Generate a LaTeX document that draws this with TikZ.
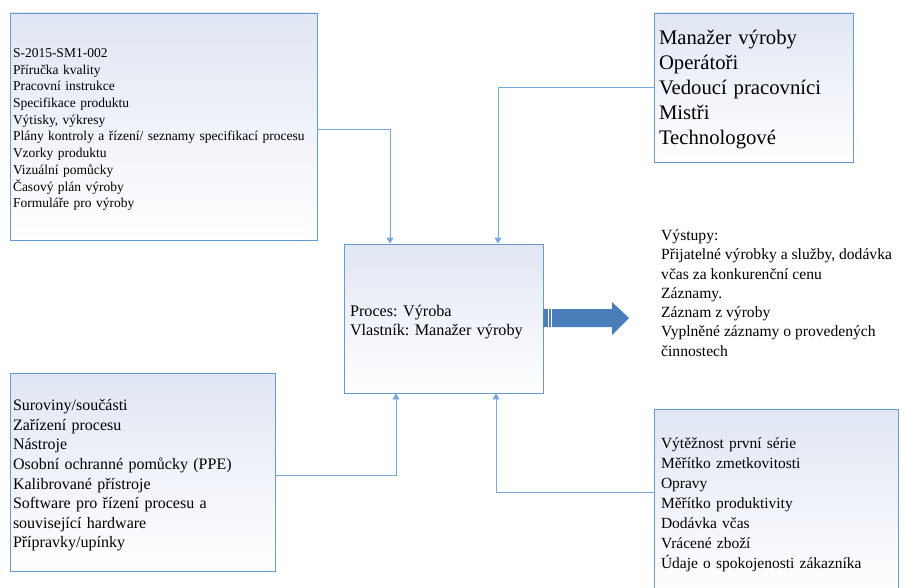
\documentclass[tikz,border=0pt]{standalone}
\usepackage{fontspec}
\setmainfont{Liberation Serif}
\frenchspacing
\usetikzlibrary{arrows.meta}

\definecolor{boxline}{RGB}{104,154,212}
\definecolor{boxtop}{RGB}{224,230,243}
\definecolor{flowline}{RGB}{120,168,222}
\definecolor{bigarrow}{RGB}{74,126,187}

\tikzset{
  infobox/.style={draw=boxline,line width=0.9pt,top color=boxtop,bottom color=white,
    align=left,inner ysep=0pt},
  flow/.style={draw=flowline,line width=0.9pt,-{Triangle[width=7pt,length=6pt]}},
}

\begin{document}
\begin{tikzpicture}[x=1pt,y=-1pt,line cap=butt,line join=miter]
  \useasboundingbox (0,0) rectangle (904,588);
  \clip (0,0) rectangle (904,588);
  \fill[white] (0,0) rectangle (904,588);

  \node[infobox,minimum width=307pt,minimum height=227pt,inner xsep=3pt,text width=301pt,
    text depth=147pt,font=\fontsize{13.5}{16.7}\selectfont] (docs) at (163.5,126.5)
    {S-2015-SM1-002\\Příručka kvality\\Pracovní instrukce\\Specifikace produktu\\
     Výtisky, výkresy\\Plány kontroly a řízení/ seznamy specifikací procesu\\
     Vzorky produktu\\Vizuální pomůcky\\Časový plán výroby\\Formuláře pro výroby};
  \node[infobox,minimum width=199pt,minimum height=149pt,inner xsep=5pt,text width=189pt,
    text depth=100.5pt,font=\fontsize{20.7}{25}\selectfont] (people) at (753.5,87.5)
    {Manažer výroby\\Operátoři\\Vedoucí pracovníci\\Mistři\\Technologové};
  \node[infobox,minimum width=199pt,minimum height=149pt,inner xsep=6pt,text width=187pt,
    text depth=14.5pt,font=\fontsize{16.2}{19}\selectfont] (proc) at (443.5,318.5)
    {Proces: Výroba\\Vlastník: Manažer výroby};
  \node[infobox,minimum width=265pt,minimum height=198pt,inner xsep=3pt,text width=259pt,
    text depth=133.7pt,font=\fontsize{16}{19.6}\selectfont] (res) at (142.5,472)
    {Suroviny/součásti\\Zařízení procesu\\Nástroje\\Osobní ochranné pomůcky (PPE)\\
     Kalibrované přístroje\\Software pro řízení procesu a\\související hardware\\
     Přípravky/upínky};
  \node[infobox,minimum width=244pt,minimum height=188pt,inner xsep=7pt,text width=230pt,
    text depth=119.4pt,font=\fontsize{15.5}{20}\selectfont] (kpi) at (776,503)
    {Výtěžnost první série\\Měřítko zmetkovitosti\\Opravy\\Měřítko produktivity\\
     Dodávka včas\\Vrácené zboží\\Údaje o spokojenosti zákazníka};
  \node[anchor=west,align=left,inner sep=0pt,font=\fontsize{15.6}{19.3}\selectfont] (out) at (661,293)
    {Výstupy:\\Přijatelné výrobky a služby, dodávka\\včas za konkurenční cenu\\Záznamy.\\
     Záznam z výroby\\Vyplněné záznamy o provedených\\činnostech};

  % inputs and controls
  \draw[flow] ([yshift=-2.5pt]docs.east) -| ([xshift=-53.5pt]proc.north);
  \draw[flow] (people.west) -| ([xshift=54.5pt]proc.north);
  \draw[flow] ([yshift=-3pt]res.east) -| ([xshift=-47.5pt]proc.south);
  \draw[flow] ([yshift=11pt]kpi.west) -| ([xshift=52.5pt]proc.south);

  % output arrow
  \coordinate (tip) at (629,318);
  \fill[bigarrow] (proc.east |- 0,309) -- (612,309) -- (612,302) -- (tip)
    -- (612,335) -- (612,327) -- (proc.east |- 0,327) -- cycle;
  \draw[white,line width=0.6pt] (548.5,309) -- (548.5,327);
  \draw[white,line width=0.6pt] (550.8,309) -- (550.8,327);
\end{tikzpicture}
\end{document}
